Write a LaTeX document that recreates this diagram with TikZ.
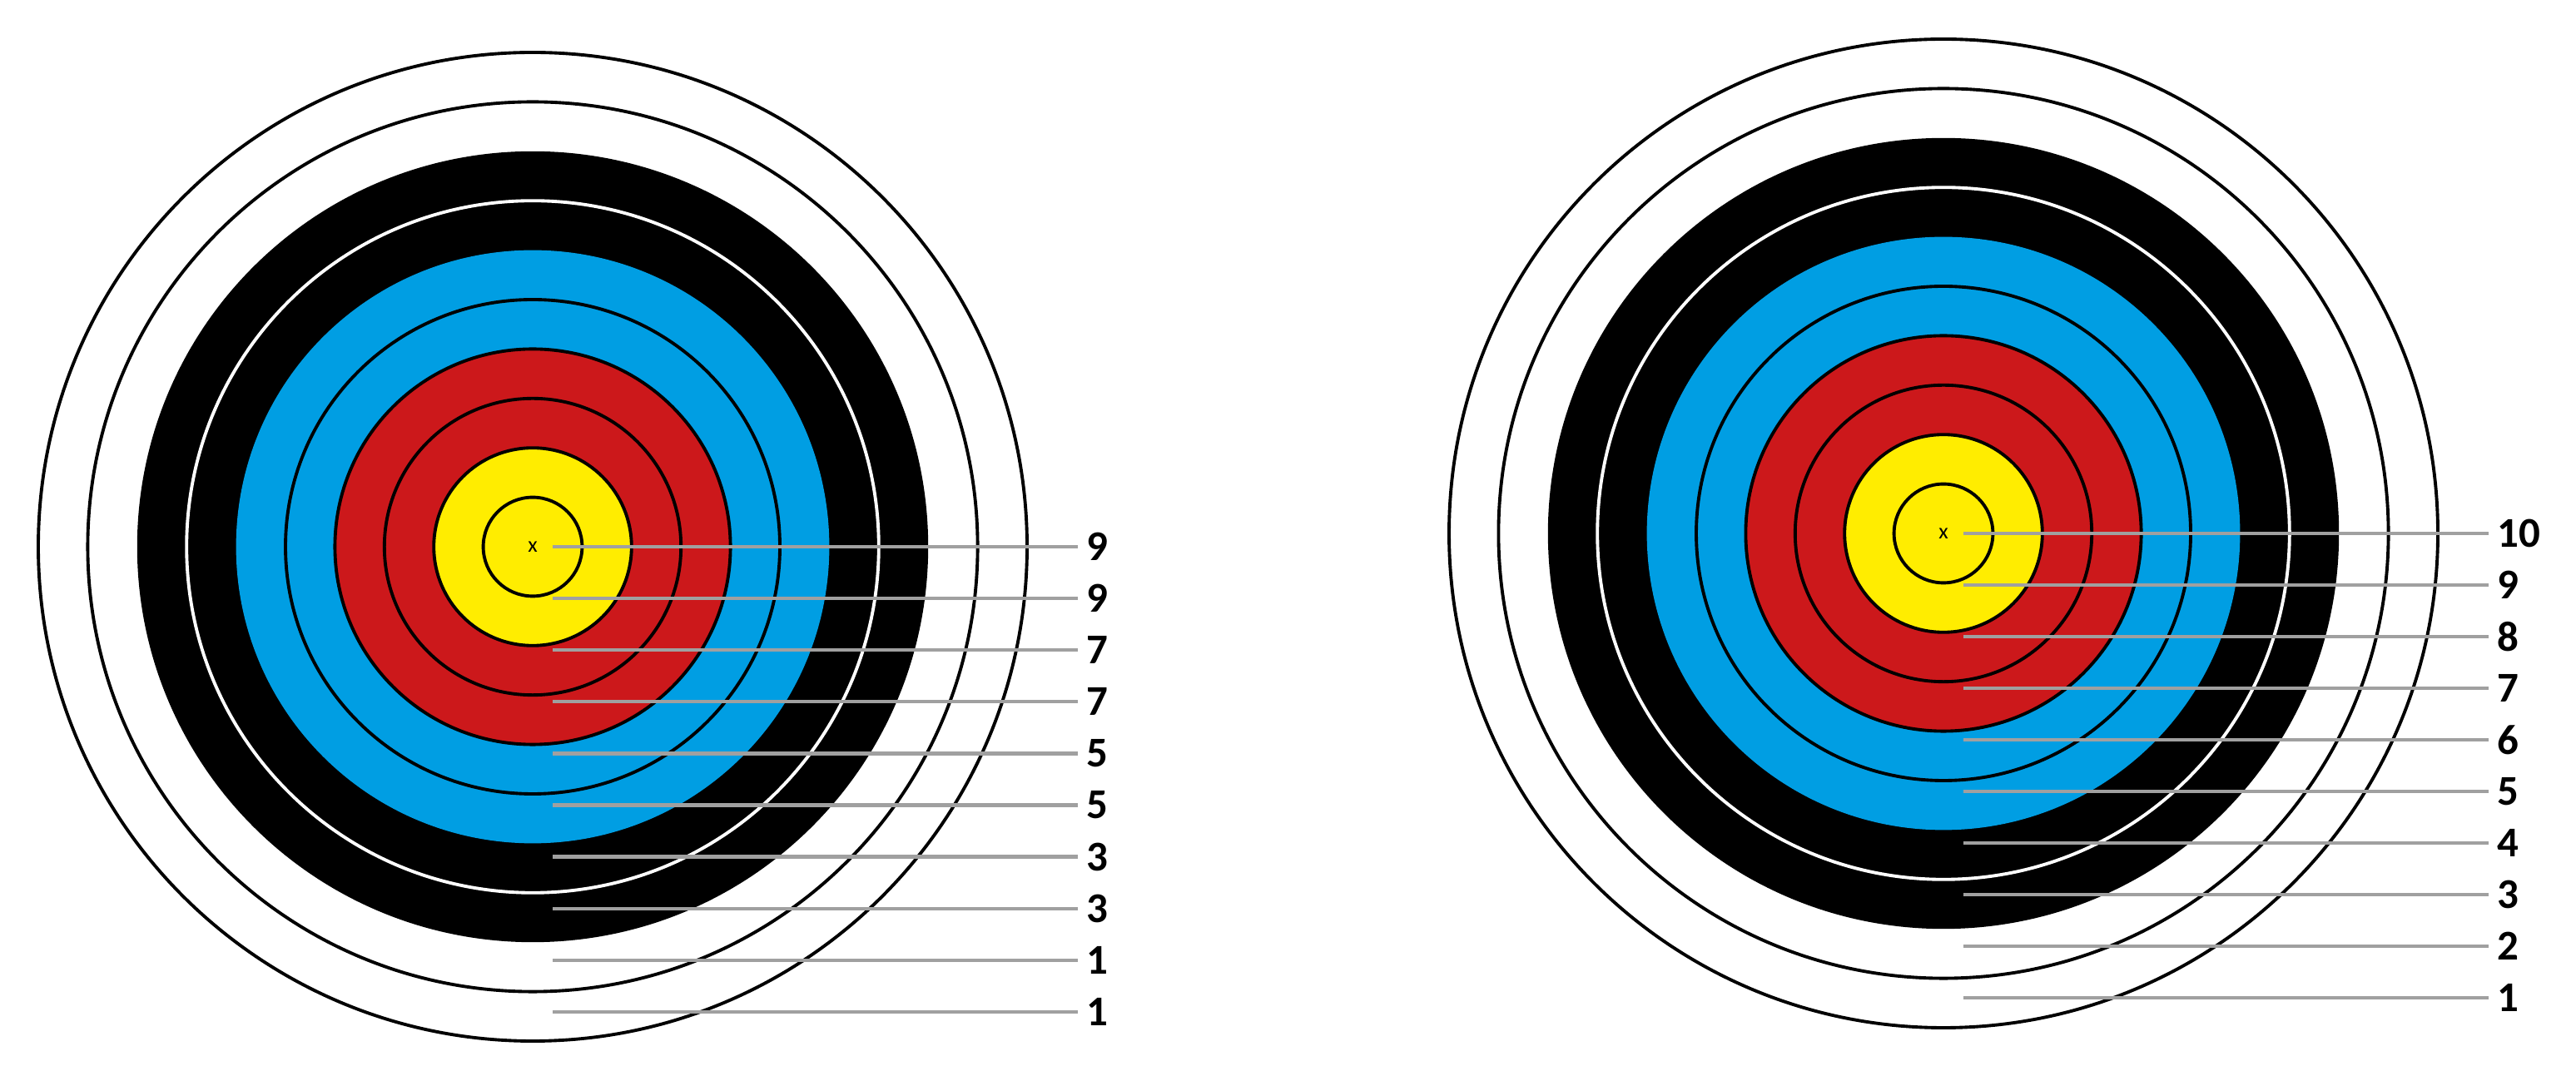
\documentclass[tikz,border=0pt]{standalone}
\usepackage{fontspec}
\setmainfont{Carlito}
\definecolor{tyellow}{RGB}{255,237,0}
\definecolor{tred}{RGB}{204,24,27}
\definecolor{tblue}{RGB}{0,158,227}
\definecolor{tgray}{RGB}{160,160,160}
\tikzset{
  ringline/.style={line width=1.1pt},
  grayline/.style={draw=tgray, line width=1.2pt},
  scorelab/.style={font=\bfseries\fontsize{14.5pt}{17pt}\selectfont, inner xsep=0.1cm, inner ysep=0pt, anchor=west},
  centremark/.style={font=\fontsize{7.5pt}{9pt}\selectfont, inner sep=0pt}
}
\begin{document}
\begin{tikzpicture}[x=1cm,y=1cm]
\useasboundingbox (0,0) rectangle (30.95,13.05);
\def\w{0.594}
\foreach \cx/\cy/\nm in {6.40/6.48/L, 23.35/6.64/R}{
  \begin{scope}[shift={(\cx,\cy)}]
    \fill[white] (0,0) circle ({10*\w});
    \fill[black] (0,0) circle ({8*\w});
    \fill[tblue] (0,0) circle ({6*\w});
    \fill[tred] (0,0) circle ({4*\w});
    \fill[tyellow] (0,0) circle ({2*\w});
    \foreach \k in {10,9,5,4,3,2,1}{
      \draw[ringline] (0,0) circle ({\k*\w});
    }
    \draw[ringline, white] (0,0) circle ({7*\w});
    \node[centremark] (c\nm) at (0,0) {x};
  \end{scope}
}
% left target scale
\foreach \v [count=\i from 0] in {9,9,7,7,5,5,3,3,1,1}{
  \coordinate (ls\i) at (6.64, {6.48-0.621*\i});
  \node[scorelab] (ll\i) at (12.95, {6.48-0.621*\i}) {\v};
  \draw[grayline] (ls\i) -- (ll\i.west);
}
% right target scale
\foreach \v [count=\i from 0] in {10,9,8,7,6,5,4,3,2,1}{
  \coordinate (rs\i) at (23.59, {6.64-0.62*\i});
  \node[scorelab] (rl\i) at (29.90, {6.64-0.62*\i}) {\v};
  \draw[grayline] (rs\i) -- (rl\i.west);
}
\end{tikzpicture}
\end{document}
